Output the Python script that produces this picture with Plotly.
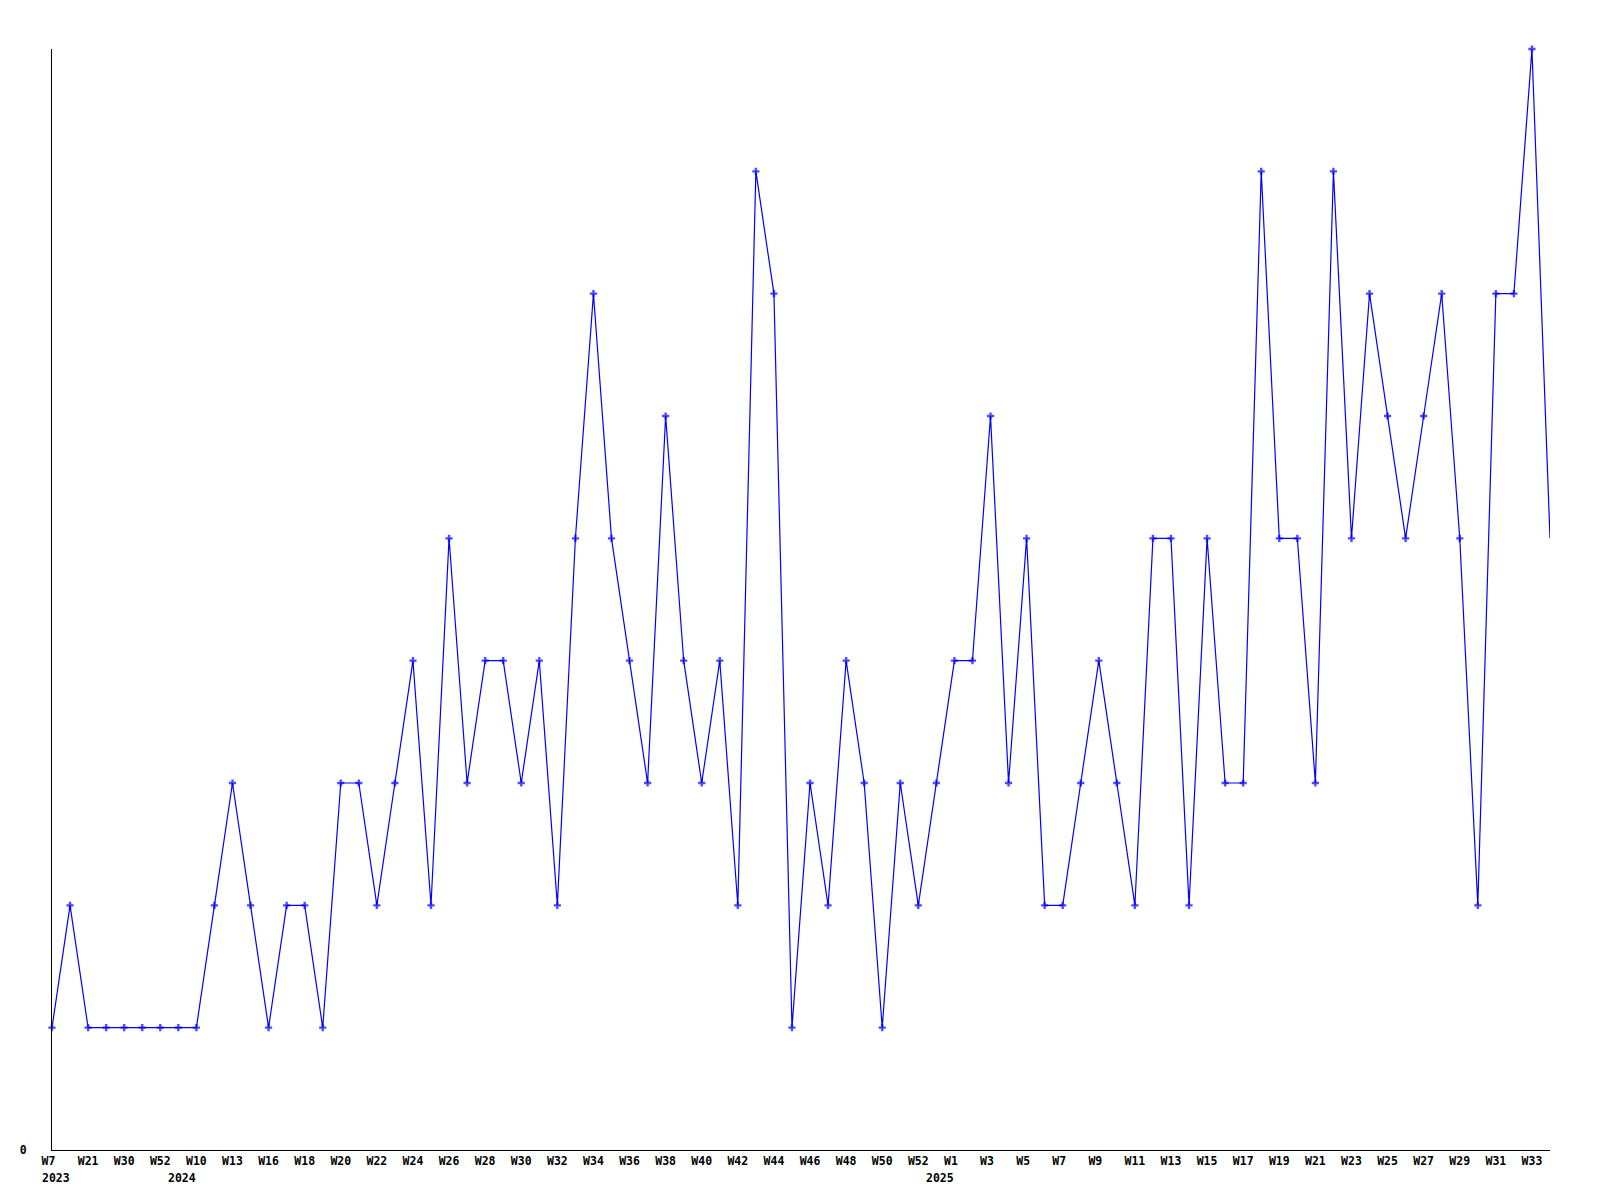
import plotly.graph_objects as go

# Values per weekly point (84 points)
values = [1, 2, 1, 1, 1, 1, 1, 1, 1, 2,
          3, 2, 1, 2, 2, 1, 3, 3, 2, 3,
          4, 2, 5, 3, 4, 4, 3, 4, 2, 5,
          7, 5, 4, 3, 6, 4, 3, 4, 2, 8,
          7, 1, 3, 2, 4, 3, 1, 3, 2, 3,
          4, 4, 6, 3, 5, 2, 2, 3, 4, 3,
          2, 5, 5, 2, 5, 3, 3, 8, 5, 5,
          3, 8, 5, 7, 6, 5, 6, 7, 5, 2,
          7, 7, 9, 5]

# Tick labels shown at every second point
tick_labels = ["W7", "W21", "W30", "W52", "W10", "W13", "W16", "W18", "W20", "W22",
               "W24", "W26", "W28", "W30", "W32", "W34", "W36", "W38", "W40", "W42",
               "W44", "W46", "W48", "W50", "W52", "W1", "W3", "W5", "W7", "W9",
               "W11", "W13", "W15", "W17", "W19", "W21", "W23", "W25", "W27", "W29",
               "W31", "W33"]

# Year labels and the point index where each year starts
years = ["2023", "2024", "2025"]
year_start_index = [0, 7, 49]

x = list(range(len(values)))
tick_vals = x[::2][:len(tick_labels)]
# pad two-character labels so they align like the reference (left-aligned 3-char cell)
tick_text = [t if len(t) >= 3 else t + "\u00a0" * (3 - len(t)) for t in tick_labels]

marker_sizes = [6] * (len(values) - 1) + [0]

font_mono = dict(family="DejaVu Sans Mono", size=11.5, color="black", weight="bold")

fig = go.Figure()
fig.add_trace(go.Scatter(
    x=x, y=values, mode="lines+markers",
    line=dict(color="#0000ff", width=1.2),
    marker=dict(symbol="cross", size=marker_sizes, color="#0000ff", line=dict(width=0)),
    cliponaxis=False,
    hoverinfo="skip",
))

annotations = []
for yr, idx in zip(years, year_start_index):
    annotations.append(dict(
        x=idx, xref="x", y=0, yref="paper",
        text=yr, showarrow=False, xanchor="left", yanchor="middle",
        xshift=-11.5, yshift=-28, font=font_mono, borderpad=0,
    ))

fig.update_layout(
    width=1600, height=1200,
    margin=dict(l=42, r=58, t=41, b=58),
    paper_bgcolor="white", plot_bgcolor="white",
    showlegend=False,
    annotations=annotations,
    xaxis=dict(
        range=[0, len(values) - 1],
        showline=True, linecolor="black", linewidth=1,
        showgrid=False, zeroline=False,
        tickmode="array", tickvals=tick_vals, ticktext=tick_text,
        ticks="", tickfont=font_mono, tickangle=0,
    ),
    yaxis=dict(
        range=[0, 9],
        showline=True, linecolor="black", linewidth=1,
        showgrid=False, zeroline=False,
        tickmode="array", tickvals=[0], ticktext=["0"],
        ticks="", tickfont=font_mono, ticklabelstandoff=22,
    ),
)

fig.write_html("out.html")
